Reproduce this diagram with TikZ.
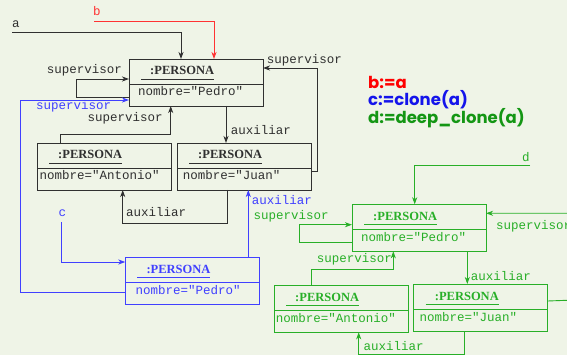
\documentclass[tikz,border=0pt]{standalone}
\usepackage{fontspec}
\setmainfont{Liberation Serif}
\newfontfamily\monof{Liberation Mono}
\newfontfamily\legf{Poppins}
\usetikzlibrary{arrows.meta,calc}
\definecolor{bgc}{RGB}{239,244,231}
\definecolor{blk}{RGB}{48,48,48}
\definecolor{blu}{RGB}{64,64,255}
\definecolor{rd}{RGB}{255,50,50}
\definecolor{grn}{RGB}{40,175,40}
\definecolor{lred}{RGB}{255,0,0}
\definecolor{lblue}{RGB}{20,20,235}
\definecolor{lgreen}{RGB}{20,150,20}
\tikzset{
  conn/.style={line width=0.9pt,-{Stealth[length=7pt,width=5pt,inset=2pt]}},
  lab/.style={font=\monof\fontsize{12.5}{14}\selectfont,anchor=base west,inner sep=0pt},
  legtxt/.style={font=\legf\bfseries\fontsize{16.5}{18}\selectfont,anchor=base west,inner sep=0pt},
  pbox/.style={line width=0.9pt,minimum width=134pt,minimum height=47pt,anchor=north west,inner sep=0pt,outer sep=0pt},
}
% name, x, y, colour, attribute text, attribute x offset
\newcommand\persona[6]{%
  \node[pbox,draw=#4] (#1) at (#2,#3) {};
  \draw[#4,line width=0.9pt] ([yshift=-25.5pt]#1.north west) -- ([yshift=-25.5pt]#1.north east);
  \node[anchor=base west,inner sep=0pt,text=#4,font=\bfseries\fontsize{12.5}{14}\selectfont] (#1t) at ([xshift=21pt,yshift=-16pt]#1.north west) {:PERSONA};
  \draw[#4,line width=0.9pt] ([xshift=12pt,yshift=-20pt]#1.north west) -- ([xshift=85pt,yshift=-20pt]#1.north west);
  \node[lab,text=#4] (#1a) at ([xshift=#6pt,yshift=-37pt]#1.north west) {#5};
}
\begin{document}
\begin{tikzpicture}[x=1pt,y=-1pt]
\useasboundingbox (0,0) rectangle (567,355);
\fill[bgc] (0,0) rectangle (567,355);
\clip (0,0) rectangle (567,355);

% ---------- original objects ----------
\persona{P}{129}{59}{blk}{nombre="Pedro"}{9}
\persona{A}{37}{143}{blk}{nombre="Antonio"}{2.3}
\persona{J}{177}{143}{blk}{nombre="Juan"}{5.7}
\persona{C}{125.3}{257}{blu}{nombre="Pedro"}{10}

\node[lab,text=blk] (la) at (12,27.3) {a};
\coordinate (aS) at (12,32.3);
\draw[conn,blk] (aS) -| ([xshift=52pt]P.north west);

\node[lab,text=rd] (lb) at (93,15.3) {b};
\coordinate (bS) at (94,21);
\draw[conn,rd] (bS) -| ([xshift=85pt]P.north west);

% self supervisor
\draw[conn,blk] ([yshift=-38pt]P.north west) -- ++(-53,0) |- ([yshift=-20pt]P.north west);
\node[lab,text=blk] (l1) at (46.7,74) {supervisor};

% clone supervisor -> P
\draw[conn,blu] ([yshift=-35pt]C.north west) -- ++(-105.3,0) |- ([yshift=-41pt]P.north west);
\node[lab,text=blu] (l2) at (36,110) {supervisor};

% Antonio -> Pedro supervisor
\draw[conn,blk] ([xshift=23pt]A.north west) -- ++(0,-9) -| ([xshift=41.7pt]P.south west);
\node[lab,text=blk] (l3) at (87.3,121.7) {supervisor};

% Juan -> Pedro supervisor
\draw[conn,blk] ([yshift=-28pt]J.north east) -- ++(6,0) |- ([yshift=-9pt]P.north east);
\node[lab,text=blk] (l4) at (266.7,63.3) {supervisor};

% Pedro -> Juan auxiliar
\draw[conn,blk] ([xshift=97pt]P.south west) -- ([xshift=49pt]J.north west);
\node[lab,text=blk] (l5) at (230.7,135) {auxiliar};

% Juan -> Antonio auxiliar
\draw[conn,blk] ([xshift=50.7pt]J.south west) -- ++(0,33) -| ([xshift=85.7pt]A.south west);
\node[lab,text=blk] (l6) at (126,216.7) {auxiliar};

% c
\node[lab,text=blu] (lc) at (58.3,216.7) {c};
\coordinate (cS) at (61,222);
\draw[conn,blu] (cS) |- ([yshift=-5pt]C.north west);

% clone auxiliar -> Juan
\draw[conn,blu] ([xshift=123pt]C.north west) -- ([xshift=71.3pt]J.south west);
\node[lab,text=blu] (l7) at (251.7,205) {auxiliar};

% ---------- deep clone ----------
\persona{GP}{352}{204.3}{grn}{nombre="Pedro"}{9}
\persona{GA}{274}{285.3}{grn}{nombre="Antonio"}{1.7}
\persona{GJ}{413.7}{284}{grn}{nombre="Juan"}{5.7}

\node[lab,text=grn] (ld) at (522,161.7) {d};
\coordinate (dS) at (530,165.7);
\draw[conn,grn] (dS) -| ([xshift=62.7pt]GP.north west);

\draw[conn,grn] ([yshift=-38.4pt]GP.north west) -- ++(-53,0) |- ([yshift=-20.4pt]GP.north west);
\node[lab,text=grn] (l8) at (253.3,220) {supervisor};

\coordinate (gR1) at (575,300);
\coordinate (gR2) at (575,213.3);
\draw[conn,grn] ([yshift=-17pt]GJ.north east) -- (gR1) -- (gR2) -- ([yshift=-9pt]GP.north east);
\node[lab,text=grn] (l9) at (496,230) {supervisor};

\draw[conn,grn] ([xshift=115.3pt]GP.south west) -- ([xshift=53.6pt]GJ.north west);
\node[lab,text=grn] (l10) at (470.7,280.7) {auxiliar};

\draw[conn,grn] ([xshift=37.7pt]GA.north west) -- ++(0,-16) -| ([xshift=41.3pt]GP.south west);
\node[lab,text=grn] (l11) at (316.7,262.7) {supervisor};

\draw[conn,grn] ([xshift=50.3pt]GJ.south west) -- ++(0,23) -| ([xshift=84.7pt]GA.south west);
\node[lab,text=grn] (l12) at (363.3,350) {auxiliar};

% ---------- legend ----------
\node[legtxt,text=lred] (L1) at (368,88.3) {b:=a};
\node[legtxt,text=lblue] (L2) at (368,106) {c:=clone(a)};
\node[legtxt,text=lgreen] (L3) at (368,124) {d:=deep\_clone(a)};
\end{tikzpicture}
\end{document}
